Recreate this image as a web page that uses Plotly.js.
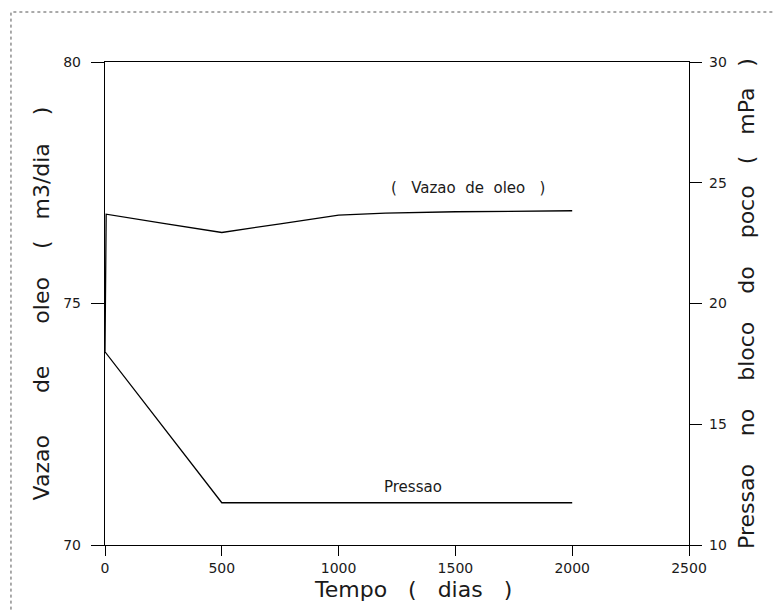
<!DOCTYPE html>
<html>
<head>
<meta charset="utf-8">
<script src="https://cdn.plot.ly/plotly-3.0.1.min.js"></script>
<style>html,body{margin:0;padding:0;background:#fff;}#chart{width:775px;height:610px;}</style>
</head>
<body>
<div id="chart"></div>
<script>
// Oil rate (left axis, m3/dia)
const oilDays = [0, 5, 250, 500, 750, 1000, 1200, 1500, 2000];
const oilRate = [74.0, 76.85, 76.66, 76.47, 76.65, 76.83, 76.87, 76.9, 76.92];
// Well-block pressure (right axis, mPa)
const presDays = [0, 500, 1000, 1500, 2000];
const presVal = [18.0, 11.75, 11.75, 11.75, 11.75];

const xTicks = [0, 500, 1000, 1500, 2000, 2500];
const yLeftTicks = [70, 75, 80];
const yRightTicks = [10, 15, 20, 25, 30];

const fnt = {family: 'DejaVu Sans, sans-serif', color: '#1a1a1a'};
const sp = n => '\u00a0'.repeat(n);

const traces = [
  {x: oilDays, y: oilRate, type: 'scatter', mode: 'lines', line: {color: '#000', width: 1.3}, yaxis: 'y', hoverinfo: 'none'},
  {x: presDays, y: presVal, type: 'scatter', mode: 'lines', line: {color: '#000', width: 1.3}, yaxis: 'y2', hoverinfo: 'none'}
];

const layout = {
  width: 775, height: 610,
  margin: {l: 105, r: 86, t: 62, b: 65},
  paper_bgcolor: '#fff', plot_bgcolor: '#fff',
  showlegend: false,
  font: Object.assign({size: 13}, fnt),
  xaxis: {
    range: [0, 2500], tickvals: xTicks, ticktext: xTicks.map(String),
    showgrid: false, zeroline: false, showline: true, linecolor: '#000', linewidth: 1.2,
    mirror: true, ticks: 'outside', ticklen: 10, tickcolor: '#000', ticklabelstandoff: 0,
    tickfont: Object.assign({size: 14}, fnt)
  },
  yaxis: {
    range: [70, 80], tickvals: yLeftTicks, ticktext: yLeftTicks.map(String),
    showgrid: false, zeroline: false, showline: true, linecolor: '#000', linewidth: 1.2,
    ticks: 'outside', ticklen: 13, tickcolor: '#000', ticklabelstandoff: 7,
    tickfont: Object.assign({size: 14}, fnt),
    title: {text: 'Vazao' + sp(6) + 'de' + sp(6) + 'oleo' + sp(4) + '(' + sp(3) + 'm3/dia' + sp(4) + ')', font: Object.assign({size: 22}, fnt), standoff: 7}
  },
  yaxis2: {
    range: [10, 30], tickvals: yRightTicks, ticktext: yRightTicks.map(String),
    overlaying: 'y', side: 'right',
    showgrid: false, zeroline: false, showline: true, linecolor: '#000', linewidth: 1.2,
    ticks: 'outside', ticklen: 12, tickcolor: '#000', ticklabelstandoff: 4,
    tickfont: Object.assign({size: 14}, fnt),
    title: {text: 'Pressao' + sp(4) + 'no' + sp(4) + 'bloco' + sp(4) + 'do' + sp(4) + 'poco' + sp(3) + '(' + sp(3) + 'mPa' + sp(3) + ')', font: Object.assign({size: 22}, fnt), standoff: 12}
  },
  annotations: [
    {x: 0.527, y: -0.092, xref: 'paper', yref: 'paper', yanchor: 'middle', text: 'Tempo' + sp(3) + '(' + sp(3) + 'dias' + sp(3) + ')', showarrow: false, font: Object.assign({size: 22}, fnt)},
    {x: 1554, y: 77.4, xref: 'x', yref: 'y', text: '(' + sp(3) + 'Vazao' + sp(2) + 'de' + sp(2) + 'oleo' + sp(3) + ')', showarrow: false, font: Object.assign({size: 15}, fnt)},
    {x: 1318, y: 12.4, xref: 'x', yref: 'y2', text: 'Pressao', showarrow: false, font: Object.assign({size: 15}, fnt)}
  ],
  shapes: [
    {type: 'rect', xref: 'paper', yref: 'paper', x0: -0.161, x1: 1.2, y0: -0.25, y1: 1.1035,
     line: {color: '#555', width: 1, dash: 'dot'}, layer: 'below'}
  ]
};

Plotly.newPlot('chart', traces, layout, {displayModeBar: false, staticPlot: true});
</script>
</body>
</html>
